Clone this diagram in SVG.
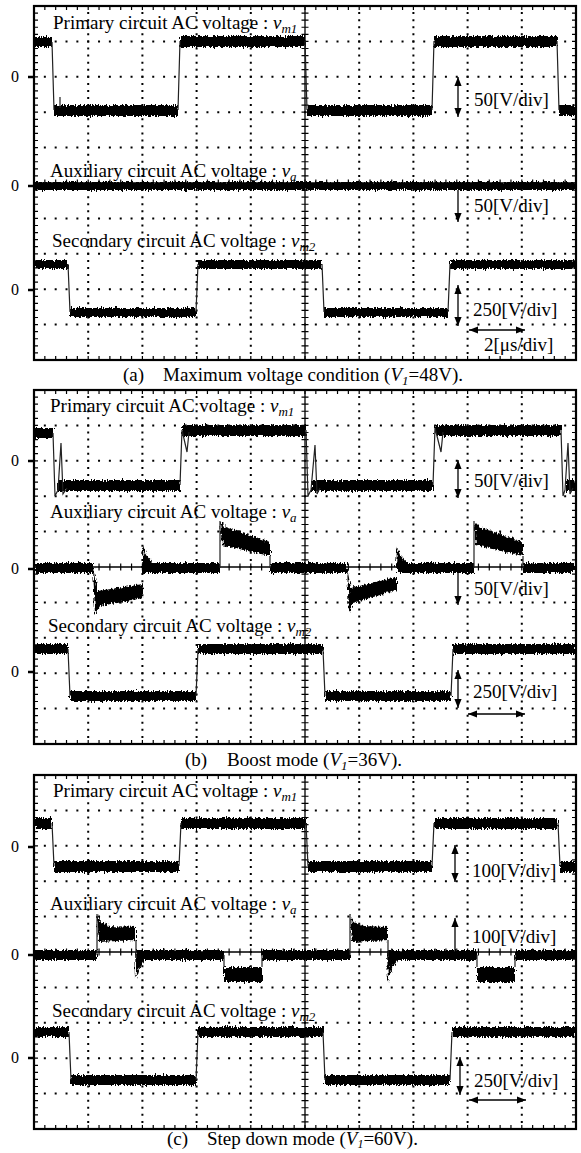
<svg xmlns="http://www.w3.org/2000/svg" xmlns:xlink="http://www.w3.org/1999/xlink" width="581" height="1153" viewBox="0 0 581 1153">
<style>
.lbl{font-family:"Liberation Serif","Times New Roman",serif;font-size:19px;fill:#000}
.zero{font-family:"Liberation Serif","Times New Roman",serif;font-size:16px;fill:#000}
.it{font-style:italic}
.frame{fill:none;stroke:#000;stroke-width:2.2}
.tkv{fill:none;stroke:#000;stroke-width:4;stroke-dasharray:1.2 5.88;stroke-dashoffset:0.6}
.tkh{fill:none;stroke:#000;stroke-width:4;stroke-dasharray:1.2 9.64;stroke-dashoffset:0.6}
.dv{fill:none;stroke:#000;stroke-width:2;stroke-dasharray:2 5.08;stroke-dashoffset:1}
.dh{fill:none;stroke:#000;stroke-width:2;stroke-dasharray:2 8.84;stroke-dashoffset:1}
.axis{fill:none;stroke:#000;stroke-width:1.3}
.band{fill:#000}
.edge{fill:none;stroke:#222;stroke-width:1.2}
.arr{fill:none;stroke:#000;stroke-width:1.3}
.ztk{stroke:#000;stroke-width:2.5}
</style>
<defs>
<filter id="noise" filterUnits="userSpaceOnUse" x="0" y="0" width="581" height="1153">
<feTurbulence type="fractalNoise" baseFrequency="0.9 0.2" numOctaves="2" seed="4" result="t"/>
<feDisplacementMap in="SourceGraphic" in2="t" scale="6" xChannelSelector="R" yChannelSelector="G"/>
</filter>
<marker id="ah" viewBox="0 0 10 10" refX="10" refY="5" markerWidth="9" markerHeight="9" markerUnits="userSpaceOnUse" orient="auto-start-reverse">
<path d="M0,1 L10,5 L0,9 z" fill="#000"/>
</marker>
<g id="grid">
<path class="dv" d="M54.2,0V354 M108.4,0V354 M162.6,0V354 M216.8,0V354 M325.2,0V354 M379.4,0V354 M433.6,0V354 M487.8,0V354"/>
<path class="dh" d="M0,35.4H542 M0,70.8H542 M0,106.2H542 M0,141.6H542 M0,212.4H542 M0,247.8H542 M0,283.2H542 M0,318.6H542"/>
<path class="axis" d="M271,0V354 M0,177H542"/>
<path class="tkv" d="M271,0V354" style="stroke-width:7"/>
<path class="tkh" d="M0,177H542" style="stroke-width:7"/>
<path class="tkv" d="M2,0V354 M540,0V354"/>
<path class="tkh" d="M0,2H542 M0,352H542"/>
<rect class="frame" x="0" y="0" width="542" height="354"/>
</g>
</defs>

<g id="panel-a">
<use xlink:href="#grid" href="#grid" transform="translate(34,6)"/>
<g filter="url(#noise)">
<rect class="band" x="35" y="37" width="17" height="10"/>
<rect class="band" x="54" y="105" width="124" height="11"/>
<rect class="band" x="180" y="36" width="125" height="11"/>
<rect class="band" x="307" y="105" width="125" height="11"/>
<rect class="band" x="434" y="36" width="123" height="11"/>
<rect class="band" x="559" y="105" width="16" height="11"/>
<rect class="band" x="35" y="182" width="540" height="8"/>
<rect class="band" x="35" y="260" width="33" height="9"/>
<rect class="band" x="70" y="308" width="126" height="9"/>
<rect class="band" x="198" y="260" width="124" height="9"/>
<rect class="band" x="324" y="308" width="124" height="9"/>
<rect class="band" x="450" y="260" width="125" height="9"/>
</g>
<path class="edge" d="M52,42 L54,110 M178,110 L180,41 M305,41 L307,110 M432,110 L434,41 M557,41 L559,110 M60,108 L60,97 M68,264 L70,312 M196,312 L198,264 M322,264 L324,312 M448,312 L450,264"/>
<text class="zero" x="11" y="82">0</text><line class="ztk" x1="28" y1="77" x2="34" y2="77"/>
<text class="zero" x="11" y="191">0</text><line class="ztk" x1="28" y1="186" x2="34" y2="186"/>
<text class="zero" x="11" y="295">0</text><line class="ztk" x1="28" y1="290" x2="34" y2="290"/>
<text class="lbl" x="53" y="29">Primary circuit AC voltage : <tspan class="it">v</tspan><tspan class="it" font-size="13" dy="4">m1</tspan></text>
<text class="lbl" x="50" y="177">Auxiliary circuit AC voltage : <tspan class="it">v</tspan><tspan class="it" font-size="13" dy="4">a</tspan></text>
<text class="lbl" x="52" y="247">Secondary circuit AC voltage : <tspan class="it">v</tspan><tspan class="it" font-size="13" dy="4">m2</tspan></text>
<line class="arr" x1="458" y1="77" x2="458" y2="117" marker-start="url(#ah)" marker-end="url(#ah)"/>
<text class="lbl" x="474" y="106">50[V/div]</text>
<line class="arr" x1="458" y1="190" x2="458" y2="222" marker-end="url(#ah)"/>
<text class="lbl" x="474" y="212">50[V/div]</text>
<line class="arr" x1="458" y1="285" x2="458" y2="326" marker-start="url(#ah)" marker-end="url(#ah)"/>
<text class="lbl" x="473" y="316">250[V/div]</text>
<line class="arr" x1="469" y1="330" x2="525" y2="330" marker-start="url(#ah)" marker-end="url(#ah)"/>
<text class="lbl" x="484" y="351">2[μs/div]</text>
<text class="lbl" x="123" y="381">(a)</text>
<text class="lbl" x="163" y="381">Maximum voltage condition (<tspan class="it">V</tspan><tspan class="it" font-size="13" dy="4">1</tspan><tspan dy="-4">=48V).</tspan></text>
</g>

<g id="panel-b">
<use xlink:href="#grid" href="#grid" transform="translate(34,390)"/>
<g filter="url(#noise)">
<rect class="band" x="35" y="428" width="18" height="10"/>
<rect class="band" x="57" y="480" width="123" height="11"/>
<rect class="band" x="182" y="425" width="124" height="11"/>
<rect class="band" x="311" y="480" width="122" height="11"/>
<rect class="band" x="435" y="425" width="126" height="11"/>
<rect class="band" x="566" y="480" width="9" height="11"/>
<rect class="band" x="35" y="563" width="58" height="10"/>
<rect class="band" x="143" y="563" width="77" height="10"/>
<rect class="band" x="270" y="563" width="77" height="10"/>
<rect class="band" x="397" y="563" width="77" height="10"/>
<rect class="band" x="523" y="563" width="52" height="10"/>
<polygon class="band" points="93,568 95,614 100,606 143,598 143,584 98,591"/>
<polygon class="band" points="142,568 143,546 146,555 152,562 152,568"/>
<polygon class="band" points="220,521 226,527 270,542 270,556 222,545"/>
<polygon class="band" points="347,568 349,613 353,603 397,590 397,577 351,588"/>
<polygon class="band" points="396,568 397,547 400,555 406,562 406,568"/>
<polygon class="band" points="474,521 480,527 523,542 523,556 476,545"/>
<rect class="band" x="35" y="644" width="33" height="10"/>
<rect class="band" x="70" y="691" width="126" height="10"/>
<rect class="band" x="198" y="644" width="125" height="10"/>
<rect class="band" x="325" y="691" width="126" height="10"/>
<rect class="band" x="453" y="644" width="122" height="10"/>
</g>
<path class="edge" d="M53,433 L55,496 L58,490 L61,443 L63,494 L67,488 M180,485 L182,430 L187,452 L189,432 M306,430 L308,496 L311,490 L315,445 L317,494 L320,488 M433,485 L435,428 L441,452 L443,432 M561,430 L563,496 L565,490 L568,443 L570,494 L573,488 M220,568 L220,521 M270,556 L270,568 M474,568 L474,521 M523,556 L523,568 M68,649 L70,696 M196,696 L198,649 M323,649 L325,696 M451,696 L453,649"/>
<text class="zero" x="11" y="466">0</text><line class="ztk" x1="28" y1="461" x2="34" y2="461"/>
<text class="zero" x="11" y="574">0</text><line class="ztk" x1="28" y1="569" x2="34" y2="569"/>
<text class="zero" x="11" y="677">0</text><line class="ztk" x1="28" y1="672" x2="34" y2="672"/>
<text class="lbl" x="50" y="412">Primary circuit AC voltage : <tspan class="it">v</tspan><tspan class="it" font-size="13" dy="4">m1</tspan></text>
<text class="lbl" x="50" y="518">Auxiliary circuit AC voltage : <tspan class="it">v</tspan><tspan class="it" font-size="13" dy="4">a</tspan></text>
<text class="lbl" x="48" y="632">Secondary circuit AC voltage : <tspan class="it">v</tspan><tspan class="it" font-size="13" dy="4">m2</tspan></text>
<line class="arr" x1="458" y1="460" x2="458" y2="498" marker-start="url(#ah)" marker-end="url(#ah)"/>
<text class="lbl" x="474" y="487">50[V/div]</text>
<line class="arr" x1="458" y1="573" x2="458" y2="605" marker-end="url(#ah)"/>
<text class="lbl" x="474" y="595">50[V/div]</text>
<line class="arr" x1="458" y1="670" x2="458" y2="708" marker-start="url(#ah)" marker-end="url(#ah)"/>
<text class="lbl" x="473" y="698">250[V/div]</text>
<line class="arr" x1="468" y1="714" x2="525" y2="714" marker-start="url(#ah)" marker-end="url(#ah)"/>
<text class="lbl" x="185" y="766">(b)</text>
<text class="lbl" x="227" y="766">Boost mode (<tspan class="it">V</tspan><tspan class="it" font-size="13" dy="4">1</tspan><tspan dy="-4">=36V).</tspan></text>
</g>

<g id="panel-c">
<use xlink:href="#grid" href="#grid" transform="translate(34,775)"/>
<g filter="url(#noise)">
<rect class="band" x="35" y="818" width="17" height="11"/>
<rect class="band" x="54" y="861" width="125" height="11"/>
<rect class="band" x="181" y="818" width="125" height="11"/>
<rect class="band" x="308" y="861" width="124" height="11"/>
<rect class="band" x="434" y="818" width="124" height="11"/>
<rect class="band" x="560" y="861" width="15" height="11"/>
<rect class="band" x="35" y="950" width="62" height="10"/>
<rect class="band" x="136" y="950" width="88" height="10"/>
<rect class="band" x="262" y="950" width="88" height="10"/>
<rect class="band" x="388" y="950" width="89" height="10"/>
<rect class="band" x="515" y="950" width="60" height="10"/>
<polygon class="band" points="97,914 101,922 110,926 136,927 136,940 99,942"/>
<polygon class="band" points="135,952 136,978 139,968 145,960 145,952"/>
<rect class="band" x="224" y="967" width="38" height="15"/>
<polygon class="band" points="350,914 354,922 363,926 388,927 388,940 352,942"/>
<polygon class="band" points="387,952 388,983 391,970 397,960 397,952"/>
<rect class="band" x="477" y="967" width="38" height="15"/>
<rect class="band" x="35" y="1027" width="34" height="10"/>
<rect class="band" x="71" y="1075" width="125" height="10"/>
<rect class="band" x="198" y="1027" width="125" height="10"/>
<rect class="band" x="325" y="1075" width="125" height="10"/>
<rect class="band" x="452" y="1027" width="123" height="10"/>
</g>
<path class="edge" d="M52,823 L54,866 M179,866 L181,823 M306,823 L308,866 M432,866 L434,823 M558,823 L560,866 M97,955 L97,914 M136,940 L136,955 M224,955 L224,967 M262,967 L262,955 M350,955 L350,914 M388,940 L388,955 M477,955 L477,967 M515,967 L515,955 M69,1032 L71,1080 M196,1080 L198,1032 M323,1032 L325,1080 M450,1080 L452,1032"/>
<text class="zero" x="11" y="852">0</text><line class="ztk" x1="28" y1="847" x2="34" y2="847"/>
<text class="zero" x="11" y="960">0</text><line class="ztk" x1="28" y1="955" x2="34" y2="955"/>
<text class="zero" x="11" y="1063">0</text><line class="ztk" x1="28" y1="1058" x2="34" y2="1058"/>
<text class="lbl" x="53" y="797">Primary circuit AC voltage : <tspan class="it">v</tspan><tspan class="it" font-size="13" dy="4">m1</tspan></text>
<text class="lbl" x="50" y="910">Auxiliary circuit AC voltage : <tspan class="it">v</tspan><tspan class="it" font-size="13" dy="4">a</tspan></text>
<text class="lbl" x="52" y="1017">Secondary circuit AC voltage : <tspan class="it">v</tspan><tspan class="it" font-size="13" dy="4">m2</tspan></text>
<line class="arr" x1="455" y1="845" x2="455" y2="882" marker-start="url(#ah)" marker-end="url(#ah)"/>
<text class="lbl" x="472" y="877">100[V/div]</text>
<line class="arr" x1="455" y1="955" x2="455" y2="918" marker-end="url(#ah)"/>
<text class="lbl" x="472" y="943">100[V/div]</text>
<line class="arr" x1="460" y1="1057" x2="460" y2="1095" marker-start="url(#ah)" marker-end="url(#ah)"/>
<text class="lbl" x="474" y="1087">250[V/div]</text>
<line class="arr" x1="469" y1="1100" x2="526" y2="1100" marker-start="url(#ah)" marker-end="url(#ah)"/>
<text class="lbl" x="167" y="1145">(c)</text>
<text class="lbl" x="207" y="1145">Step down mode (<tspan class="it">V</tspan><tspan class="it" font-size="12" dy="3">1</tspan><tspan dy="-3">=60V).</tspan></text>
</g>
</svg>
